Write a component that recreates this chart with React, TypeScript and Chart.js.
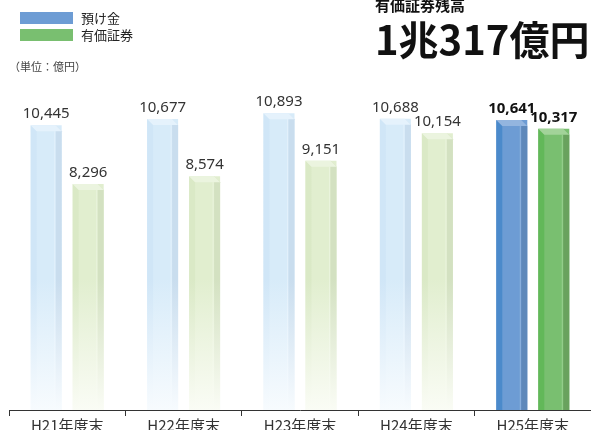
import React, { useEffect, useRef } from 'react';
import { Chart, registerables } from 'chart.js';

Chart.register(...registerables);

const categories = ['H21年度末', 'H22年度末', 'H23年度末', 'H24年度末', 'H25年度末'];
const seriesNames = ['預け金', '有価証券'];
const depositValues = [10445, 10677, 10893, 10688, 10641];
const securitiesValues = [8296, 8574, 9151, 10154, 10317];
const highlightIndex = 4;
const yMin = 0;
const yMax = 12000;

const titleSmall = '有価証券残高';
const titleBig = '1兆317億円';
const unitLabel = '（単位：億円）';

type Palette = { main: string; left: string; side: string; top: string; fade: string; shine: string };
const solidColors: Palette[] = [
  { main: '#6d9cd4', left: '#4b8acb', side: '#5e88ba', top: '#93b5df', fade: '#6d9cd4', shine: '#8fb3de' },
  { main: '#79bf70', left: '#62b859', side: '#69a25e', top: '#a2d399', fade: '#79bf70', shine: '#9ad191' },
];
const fadedColors: Palette[] = [
  { main: '#d7ebf9', left: '#d0e6f7', side: '#c9ddee', top: '#e5f2fc', fade: '#f7fbfe', shine: '#e2f0fb' },
  { main: '#e1eecf', left: '#dae9c6', side: '#d3e1c1', top: '#ebf4df', fade: '#fafcf5', shine: '#e9f3dc' },
];

const LEFT_STRIP = 6;
const SIDE = 6;
const BEVEL = 6;

function fill(ctx: CanvasRenderingContext2D, area: any, color: string, fade: string, faded: boolean) {
  if (!faded) return color;
  const g = ctx.createLinearGradient(0, area.top, 0, area.bottom);
  g.addColorStop(0, color);
  g.addColorStop(0.6, color);
  g.addColorStop(1, fade);
  return g;
}

function fadeOf(c: string, p: Palette) {
  // mix colour toward the palette fade colour
  return p.fade;
}

const bar3dPlugin = {
  id: 'bar3d',
  afterDatasetsDraw(chart: any) {
    const ctx: CanvasRenderingContext2D = chart.ctx;
    const area = chart.chartArea;
    chart.data.datasets.forEach((ds: any, di: number) => {
      const meta = chart.getDatasetMeta(di);
      meta.data.forEach((el: any, i: number) => {
        const { x, y, base, width } = el.getProps(['x', 'y', 'base', 'width'], true);
        const faded = i !== highlightIndex;
        const p = faded ? fadedColors[di] : solidColors[di];
        const L = x - width / 2;
        const R = x + width / 2;
        ctx.save();
        // left strip
        ctx.fillStyle = fill(ctx, area, p.left, p.fade, faded) as any;
        ctx.beginPath();
        ctx.moveTo(L, y);
        ctx.lineTo(L + LEFT_STRIP, y + BEVEL);
        ctx.lineTo(L + LEFT_STRIP, base);
        ctx.lineTo(L, base);
        ctx.closePath();
        ctx.fill();
        // right side
        ctx.fillStyle = fill(ctx, area, p.side, p.fade, faded) as any;
        ctx.beginPath();
        ctx.moveTo(R - SIDE, y);
        ctx.lineTo(R, y + BEVEL);
        ctx.lineTo(R, base);
        ctx.lineTo(R - SIDE, base);
        ctx.closePath();
        ctx.fill();
        // shine line
        ctx.fillStyle = fill(ctx, area, p.shine, p.fade, faded) as any;
        ctx.fillRect(R - SIDE - 1.5, y + BEVEL, 1, base - y - BEVEL);
        // top bevel
        ctx.fillStyle = p.top;
        ctx.beginPath();
        ctx.moveTo(L, y);
        ctx.lineTo(R - SIDE, y);
        ctx.lineTo(R, y + BEVEL);
        ctx.lineTo(L + LEFT_STRIP, y + BEVEL);
        ctx.closePath();
        ctx.fill();
        // value label
        const v = ds.data[i] as number;
        ctx.fillStyle = faded ? '#333333' : '#111111';
        ctx.font = `${faded ? 'normal' : 'bold'} 15px "Noto Sans", "Open Sans", sans-serif`;
        ctx.textAlign = 'center';
        ctx.textBaseline = 'alphabetic';
        ctx.fillText(v.toLocaleString('en-US'), x, y - 7);
        ctx.restore();
      });
    });
  },
};

export default function App() {
  const ref = useRef<HTMLCanvasElement>(null);

  useEffect(() => {
    if (!ref.current) return;
    const mkBg = (di: number) => (c: any) => {
      const i = c.dataIndex;
      const faded = i !== highlightIndex;
      const p = faded ? fadedColors[di] : solidColors[di];
      const chart = c.chart;
      if (!chart.chartArea) return p.main;
      return fill(chart.ctx, chart.chartArea, p.main, p.fade, faded);
    };
    const chart = new Chart(ref.current, {
      type: 'bar',
      data: {
        labels: categories,
        datasets: [
          { label: seriesNames[0], data: depositValues, backgroundColor: mkBg(0), borderWidth: 0 },
          { label: seriesNames[1], data: securitiesValues, backgroundColor: mkBg(1), borderWidth: 0 },
        ],
      },
      options: {
        animation: false,
        responsive: false,
        devicePixelRatio: 1,
        events: [],
        categoryPercentage: 0.7216,
        barPercentage: 0.738,
        layout: { padding: { left: 9, right: 0, top: 83, bottom: 0 } },
        plugins: { legend: { display: false }, tooltip: { enabled: false } },
        scales: {
          y: { display: false, min: yMin, max: yMax },
          x: {
            grid: {
              display: true,
              drawOnChartArea: false,
              drawTicks: true,
              tickLength: 6,
              color: '#333333',
              offset: true,
            },
            border: { display: true, color: '#333333', width: 1 },
            ticks: {
              color: '#333333',
              padding: 0,
              font: { family: '"Noto Sans CJK JP", sans-serif', size: 15 },
            },
            afterFit: (s: any) => {
              s.height = 20;
            },
          },
        },
      } as any,
      plugins: [bar3dPlugin],
    });
    return () => chart.destroy();
  }, []);

  const jp = '"Noto Sans CJK JP", sans-serif';
  return (
    <div
      style={{
        position: 'fixed',
        left: 0,
        top: 0,
        width: 591,
        height: 430,
        overflow: 'hidden',
        background: '#ffffff',
        fontFamily: jp,
      }}
    >
      <canvas ref={ref} width={591} height={430} style={{ position: 'absolute', left: 0, top: 0, width: 591, height: 430 }} />
      <div style={{ position: 'absolute', left: 20, top: 12, width: 53, height: 12, background: solidColors[0].main }} />
      <div style={{ position: 'absolute', left: 20, top: 29, width: 53, height: 12, background: solidColors[1].main }} />
      <span style={{ position: 'absolute', left: 81, top: 11, fontSize: 13, lineHeight: '13px', color: '#222', whiteSpace: 'nowrap' }}>
        {seriesNames[0]}
      </span>
      <span style={{ position: 'absolute', left: 81, top: 28, fontSize: 13, lineHeight: '13px', color: '#222', whiteSpace: 'nowrap' }}>
        {seriesNames[1]}
      </span>
      <span style={{ position: 'absolute', left: 9, top: 61, fontSize: 11, lineHeight: '11px', color: '#444', whiteSpace: 'nowrap' }}>
        {unitLabel}
      </span>
      <span style={{ position: 'absolute', left: 375, top: -3, fontSize: 15, lineHeight: '15px', fontWeight: 700, color: '#111', whiteSpace: 'nowrap' }}>
        {titleSmall}
      </span>
      <span style={{ position: 'absolute', left: 375, top: 18, fontSize: 40, lineHeight: '40px', fontWeight: 700, color: '#111', whiteSpace: 'nowrap' }}>
        {titleBig}
      </span>
    </div>
  );
}
